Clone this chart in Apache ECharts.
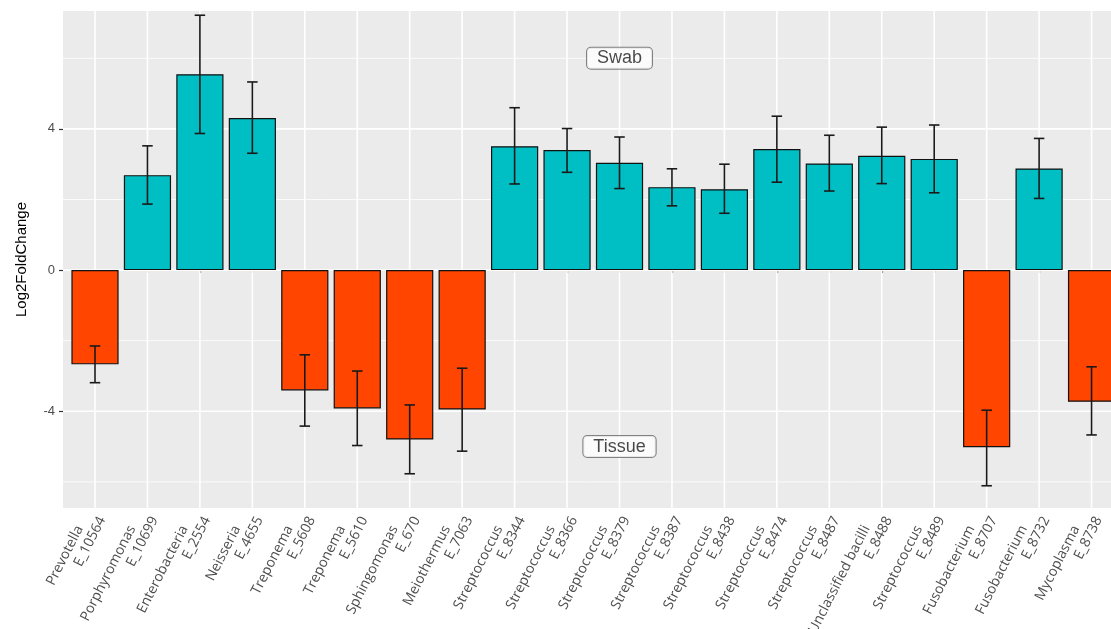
<!DOCTYPE html>
<html><head><meta charset="utf-8">
<script src="https://cdn.jsdelivr.net/npm/echarts@6/dist/echarts.min.js"></script>
<style>html,body{margin:0;padding:0;background:#fff}#c{width:1111px;height:629px}</style>
</head><body><div id="c"></div>
<script>
// ---- data ----
const genus = ['Prevotella','Porphyromonas','Enterobacteria','Neisseria','Treponema','Treponema','Sphingomonas','Meiothermus','Streptococcus','Streptococcus','Streptococcus','Streptococcus','Streptococcus','Streptococcus','Streptococcus','Unclassified bacilli','Streptococcus','Fusobacterium','Fusobacterium','Mycoplasma'];
const ids = ['E_10564','E_10699','E_2554','E_4655','E_5608','E_5610','E_670','E_7063','E_8344','E_8366','E_8379','E_8387','E_8438','E_8474','E_8487','E_8488','E_8489','E_8707','E_8732','E_8738'];
const log2fc  = [-2.67, 2.69, 5.55, 4.31, -3.41, -3.92, -4.80, -3.95, 3.51, 3.40, 3.04, 2.35, 2.29, 3.43, 3.02, 3.24, 3.15, -5.02, 2.88, -3.73];
const errLow  = [-3.19, 1.87, 3.87, 3.31, -4.42, -4.97, -5.77, -5.13, 2.44, 2.77, 2.31, 1.82, 1.61, 2.49, 2.24, 2.45, 2.19, -6.11, 2.03, -4.67];
const errHigh = [-2.15, 3.52, 7.22, 5.33, -2.40, -2.86, -3.82, -2.78, 4.60, 4.01, 3.77, 2.87, 3.00, 4.36, 3.82, 4.05, 4.11, -3.97, 3.73, -2.74];
const yTickLabels = [-4, 0, 4];
const yMinorBreaks = [-6, -2, 2, 6];
const yMin = -6.74, yMax = 7.34;
const annotCategory = [10, 10];
const annotValue = [6, -5];
const annotText = ['Swab', 'Tissue'];

const posColor = '#00BFC4', negColor = '#FF4500';
const categories = genus.map((g, i) => g + '\n' + ids[i]);

const chart = echarts.init(document.getElementById('c'), null, {renderer: 'canvas'});
const labelFont = 'Open Sans';
const option = {
  animation: false,
  backgroundColor: '#fff',
  grid: [
    {left: 63, top: 11, width: 1060, height: 497, show: true, backgroundColor: '#EBEBEB', borderWidth: 0, outerBoundsMode: 'none', containLabel: false},
    {left: 68.78, top: 11, width: 1049, height: 497, show: false, outerBoundsMode: 'none', containLabel: false}
  ],
  xAxis: [
    {gridIndex: 0, type: 'value', min: 0, max: 1, show: false},
    {gridIndex: 1, type: 'category', data: categories, boundaryGap: true,
      axisLine: {show: false},
      axisTick: {show: true, alignWithLabel: true, length: 3, lineStyle: {color: '#333', width: 1.2}},
      splitLine: {show: false},
      axisLabel: {
        interval: 0, rotate: 63, margin: 6,
        formatter: v => { const p = v.split('\n'); return '{a|' + p[0] + '}\n{b|' + p[1] + '}'; },
        rich: {
          a: {fontSize: 14, fontFamily: labelFont, color: '#4D4D4D', lineHeight: 16, padding: [0, 18, 0, 0]},
          b: {fontSize: 14, fontFamily: labelFont, color: '#4D4D4D', lineHeight: 16}
        }
      }
    }
  ],
  yAxis: [
    {gridIndex: 0, type: 'value', min: yMin, max: yMax,
      axisLine: {show: false},
      axisTick: {show: true, customValues: yTickLabels, length: 4, lineStyle: {color: '#333', width: 1.2}},
      axisLabel: {customValues: yTickLabels, color: '#4D4D4D', fontSize: 13, margin: 8, fontFamily: 'Liberation Sans'},
      splitLine: {show: false},
      name: 'Log2FoldChange', nameLocation: 'middle', nameGap: 34,
      nameTextStyle: {fontSize: 15, color: '#000', fontFamily: 'Liberation Sans'}
    },
    {gridIndex: 1, type: 'value', min: yMin, max: yMax, show: false}
  ],
  series: [
    { // horizontal panel grid lines
      type: 'custom', xAxisIndex: 0, yAxisIndex: 0, z: 1, silent: true,
      data: yMinorBreaks.map(v => [0, v, 0]).concat(yTickLabels.map(v => [0, v, 1])),
      encode: {x: 0, y: 1},
      renderItem: (params, api) => {
        const v = api.value(1), major = api.value(2);
        const a = api.coord([0, v]), b = api.coord([1, v]);
        return {type: 'line', shape: {x1: a[0], y1: a[1], x2: b[0], y2: b[1]},
          style: {stroke: '#fff', lineWidth: major ? 1.6 : 0.8}};
      }
    },
    { // vertical panel grid lines at categories
      type: 'custom', xAxisIndex: 1, yAxisIndex: 1, z: 1, silent: true,
      data: categories.map((c, i) => [i, 0]),
      encode: {x: 0, y: 1},
      renderItem: (params, api) => {
        const i = api.value(0);
        const a = api.coord([i, yMin]), b = api.coord([i, yMax]);
        return {type: 'line', shape: {x1: a[0], y1: a[1], x2: b[0], y2: b[1]},
          style: {stroke: '#fff', lineWidth: 1.6}};
      }
    },
    {
      type: 'bar', xAxisIndex: 1, yAxisIndex: 1, z: 3, barWidth: '90%',
      data: log2fc.map(v => ({value: v, itemStyle: {color: v < 0 ? negColor : posColor}})),
      itemStyle: {borderColor: '#111', borderWidth: 1.2}
    },
    { // error bars
      type: 'custom', xAxisIndex: 1, yAxisIndex: 1, z: 4, silent: true,
      data: log2fc.map((v, i) => [i, errLow[i], errHigh[i]]),
      encode: {x: 0, y: [1, 2]},
      renderItem: (params, api) => {
        const i = api.value(0);
        const lo = api.coord([i, api.value(1)]), hi = api.coord([i, api.value(2)]);
        const hw = api.size([1, 0])[0] * 0.2 / 2;
        const st = {stroke: '#1a1a1a', lineWidth: 1.6};
        return {type: 'group', children: [
          {type: 'line', shape: {x1: lo[0], y1: lo[1], x2: hi[0], y2: hi[1]}, style: st},
          {type: 'line', shape: {x1: lo[0] - hw, y1: lo[1], x2: lo[0] + hw, y2: lo[1]}, style: st},
          {type: 'line', shape: {x1: hi[0] - hw, y1: hi[1], x2: hi[0] + hw, y2: hi[1]}, style: st}
        ]};
      }
    },
    { // text annotations
      type: 'scatter', xAxisIndex: 1, yAxisIndex: 1, z: 5, silent: true, symbolSize: 0,
      data: annotText.map((t, i) => ({value: [annotCategory[i], annotValue[i]], name: t})),
      label: {show: true, position: 'inside', formatter: '{b}', fontSize: 18, fontFamily: 'Liberation Sans',
        color: '#1a1a1a', backgroundColor: '#fff', borderColor: '#666', borderWidth: 1, borderRadius: 4,
        padding: [2, 10, 1, 10]}
    }
  ]
};
chart.setOption(option);
</script>
</body></html>
